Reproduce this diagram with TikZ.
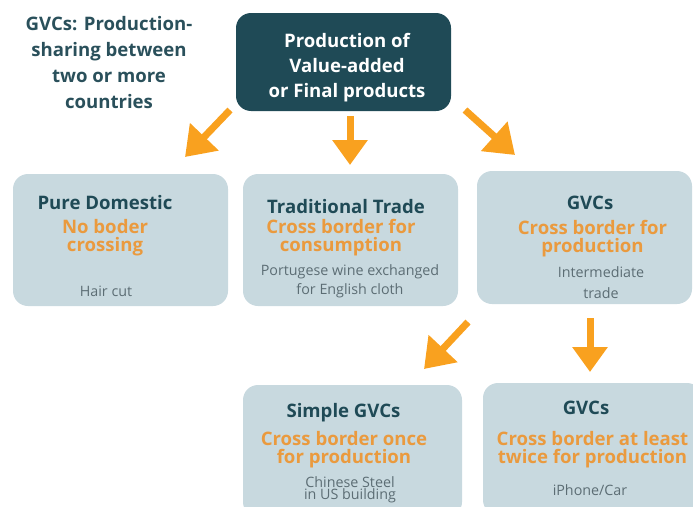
\documentclass[tikz,border=0pt]{standalone}
\usepackage{fontspec}
\setmainfont{Open Sans}
\usetikzlibrary{arrows.meta}
\definecolor{cDark}{HTML}{1F4A56}
\definecolor{cTitle}{HTML}{2A505B}
\definecolor{cOrange}{HTML}{EA9A3E}
\definecolor{cArrow}{HTML}{F9A11F}
\definecolor{cBox}{HTML}{C8D9DF}
\definecolor{cSmall}{HTML}{5C6D74}
\begin{document}
\begin{tikzpicture}[x=1pt,y=-1pt,
  box/.style={fill=cBox, draw=none, rounded corners=15pt, inner sep=0pt},
  topbox/.style={fill=cDark, draw=none, rounded corners=15pt, inner sep=0pt},
  head/.style={text=cDark, font=\bfseries\fontsize{18.6}{20}\selectfont, inner sep=0pt, align=center},
  orange/.style={text=cOrange, font=\bfseries\fontsize{18.6}{18}\selectfont, inner sep=0pt, align=center},
  small/.style={text=cSmall, font=\fontsize{14.3}{19}\selectfont, inner sep=0pt, align=center},
  bigarrow/.style={draw=cArrow, line width=7pt, -{Triangle[length=28pt,width=38pt,fill=cArrow]}},
  vertarrow/.style={draw=cArrow, line width=7pt, -{Triangle[length=25pt,width=34pt,fill=cArrow]}}
]
\useasboundingbox (0,0) rectangle (693,506);
\clip (0,0) rectangle (693,506);

% title
\node[text=cTitle, font=\bfseries\fontsize{18.6}{25.7}\selectfont, align=center, inner sep=0pt] (title) at (109,62.5)
  {GVCs: Production-\\sharing between\\two or more\\countries};

% top box
\node[topbox, minimum width=215pt, minimum height=98pt] (top) at (343.5,62) {};
\node[text=white, font=\bfseries\fontsize{18.6}{25}\selectfont, align=center, inner sep=0pt] (toptext) at (347,68)
  {Production of\\Value-added\\or Final products};

% boxes
\node[box, minimum width=215pt, minimum height=132pt] (b1) at (120.5,240) {};
\node[box, minimum width=215pt, minimum height=132pt] (b2) at (350.5,240) {};
\node[box, minimum width=215pt, minimum height=133pt] (b3) at (584.5,237.5) {};
\node[box, minimum width=219pt, minimum height=132pt] (b4) at (352.5,451) {};
\node[box, minimum width=219pt, minimum height=132pt] (b5) at (592.5,449) {};

% box 1
\node[head] (h1) at (105,203) {Pure Domestic};
\node[orange] (o1) at (105,237.5) {No boder\\crossing};
\node[small] (s1) at (106,291) {Hair cut};

% box 2
\node[head] (h2) at (346,207) {Traditional Trade};
\node[orange] (o2) at (341,238) {Cross border for\\consumption};
\node[small] (s2) at (350,281.5) {Portugese wine exchanged\\for English cloth};

% box 3
\node[head] (h3) at (590,203) {GVCs};
\node[orange] (o3) at (592.5,239) {Cross border for\\production};
\node[small, font=\fontsize{14.3}{21}\selectfont] (s3) at (601,282.5) {Intermediate\\trade};

% box 4
\node[head] (h4) at (343.5,413) {Simple GVCs};
\node[orange] (o4) at (344,449.5) {Cross border once\\for production};
\node[small, font=\fontsize{14.3}{11}\selectfont] (s4) at (350,490) {Chinese Steel\\in US building};

% box 5
\node[head] (h5) at (586,408) {GVCs};
\node[orange] (o5) at (592.5,449.5) {Cross border at least\\twice for production};
\node[small] (s5) at (590,490) {iPhone/Car};

% arrows
\coordinate (a1s) at (230,110);
\coordinate (a1e) at (185,157);
\coordinate (a2s) at (350,116);
\coordinate (a2e) at (350,165);
\coordinate (a3s) at (465,110);
\coordinate (a3e) at (515,155);
\coordinate (a4s) at (468,322);
\coordinate (a4e) at (424,369);
\coordinate (a5s) at (590,318);
\coordinate (a5e) at (590,372);
\draw[bigarrow] (a1s) -- (a1e);
\draw[vertarrow] (a2s) -- (a2e);
\draw[bigarrow] (a3s) -- (a3e);
\draw[bigarrow] (a4s) -- (a4e);
\draw[vertarrow] (a5s) -- (a5e);
\end{tikzpicture}
\end{document}
